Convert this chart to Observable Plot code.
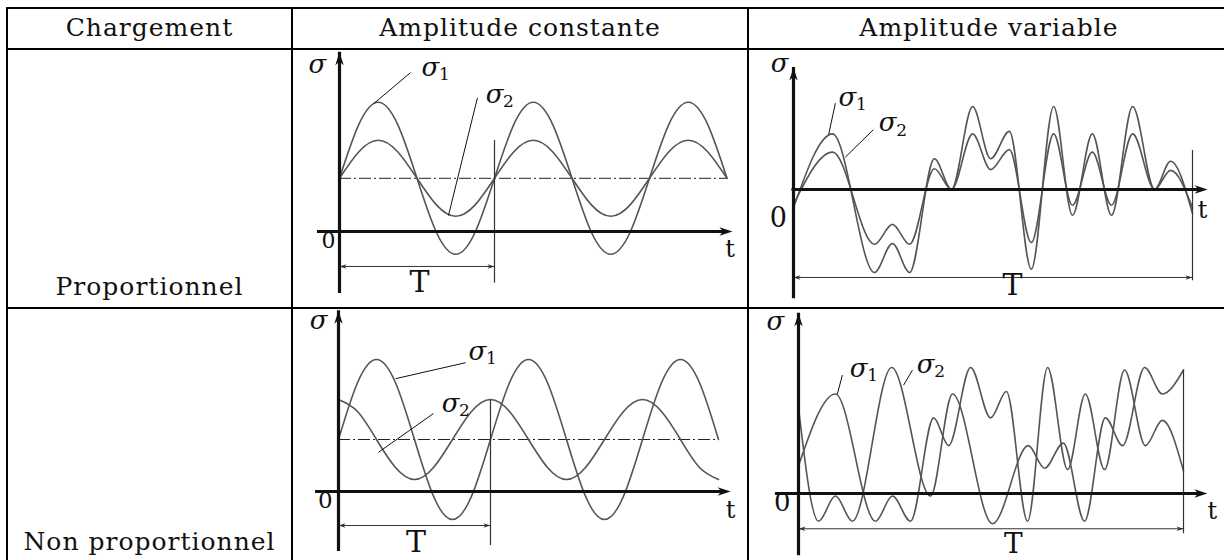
<!DOCTYPE html>
<html>
<head>
<meta charset="utf-8">
<script src="https://cdn.jsdelivr.net/npm/d3@7"></script>
<script src="https://cdn.jsdelivr.net/npm/@observablehq/plot@0.6"></script>
<style>
  body { margin: 0; background: #fff; }
  #page { position: relative; width: 1224px; height: 560px; overflow: hidden; background: #fff;
          font-family: "DejaVu Serif", serif; color: #111; }
  .ln { position: absolute; background: #000; }
  .tx { position: absolute; font-size: 25px; line-height: 25px; letter-spacing: 1px;
        text-align: center; white-space: nowrap; }
  .cell { position: absolute; overflow: visible; }
</style>
</head>
<body>
<div id="page"></div>
<script>
// ---------------- table text ----------------
const headers = ["Chargement", "Amplitude constante", "Amplitude variable"];
const rowLabels = ["Proportionnel", "Non proportionnel"];

// ---------------- panel 1 : proportional, constant amplitude ----------------
const p1T      = [0,0.125,0.25,0.375,0.5,0.625,0.75,0.875,1,1.125,1.25,1.375,1.5,1.625,1.75,1.875,2,2.125,2.25,2.375,2.5];
const p1Sigma1 = [0.70,1.41,1.70,1.41,0.70,-0.01,-0.30,-0.01,0.70,1.41,1.70,1.41,0.70,-0.01,-0.30,-0.01,0.70,1.41,1.70,1.41,0.70];
const p1Sigma2 = [0.70,1.05,1.20,1.05,0.70,0.35,0.20,0.35,0.70,1.05,1.20,1.05,0.70,0.35,0.20,0.35,0.70,1.05,1.20,1.05,0.70];
const p1Mean = 0.70;

// ---------------- panel 2 : proportional, variable amplitude ----------------
const p2T      = [0,0.098,0.203,0.248,0.291,0.353,0.396,0.449,0.494,0.541,0.596,0.652,0.699,0.749,0.797,0.850,0.905,0.945,1.0];
const p2Sigma1 = [-0.22,0.67,-1.00,-0.65,-1.00,0.37,0.00,1.00,0.37,0.70,-0.96,1.00,-0.31,0.67,-0.31,1.00,0.00,0.34,-0.29];
const p2Sigma2 = [-0.18,0.45,-0.66,-0.42,-0.66,0.25,0.00,0.67,0.24,0.48,-0.64,0.67,-0.19,0.45,-0.19,0.67,0.00,0.23,-0.22];

// ---------------- panel 3 : non proportional, constant amplitude ----------------
const p3T      = [0,0.125,0.25,0.375,0.5,0.625,0.75,0.875,1,1.125,1.25,1.375,1.5,1.625,1.75,1.875,2,2.125,2.25,2.375,2.5];
const p3Sigma1 = [0.65,1.36,1.65,1.36,0.65,-0.06,-0.35,-0.06,0.65,1.36,1.65,1.36,0.65,-0.06,-0.35,-0.06,0.65,1.36,1.65,1.36,0.65];
const p3Sigma2 = [1.15,1.00,0.65,0.30,0.15,0.30,0.65,1.00,1.15,1.00,0.65,0.30,0.15,0.30,0.65,1.00,1.15,1.00,0.65,0.30,0.15];
const p3Mean = 0.65;

// ---------------- panel 4 : non proportional, variable amplitude ----------------
const p4T1     = [0,0.096,0.200,0.244,0.291,0.351,0.390,0.447,0.499,0.540,0.595,0.647,0.699,0.745,0.795,0.847,0.901,0.945,1.0];
const p4Sigma1 = [0.22,0.79,-0.22,-0.02,-0.22,0.60,0.38,1.00,0.60,0.81,-0.22,1.00,0.19,0.79,0.19,0.98,0.38,0.58,0.18];
const p4T2     = [0,0.052,0.096,0.140,0.242,0.343,0.400,0.504,0.597,0.639,0.688,0.743,0.797,0.842,0.899,0.945,1.0];
const p4Sigma2 = [0.68,-0.22,-0.02,-0.22,1.00,-0.02,0.79,-0.24,0.38,0.20,0.40,-0.22,0.60,0.38,1.00,0.79,0.98];

// ---------------- layout ----------------
const ink = "#111", curveInk = "#555", thin = "#333";
const page = document.getElementById("page");

function arrowHead(len, half) {
  return { draw(ctx) { ctx.moveTo(0, 0); ctx.lineTo(-len, -half); ctx.lineTo(-len * 0.72, 0); ctx.lineTo(-len, half); ctx.closePath(); } };
}
const bigHead = arrowHead(13, 4.2);
const smallHead = arrowHead(7, 2.2);

const rows = (ts, vs) => ts.map((t, i) => ({ t, v: vs[i] }));

const panels = [
  { cell: { left: 294, top: 50, w: 453, h: 258 }, x0: 339, x1: 494, y0: 231, unit: 76,
    series: [rows(p1T, p1Sigma1), rows(p1T, p1Sigma2)], curve: "natural", mean: p1Mean, tEnd: 2.5,
    yAxis: [-0.71, 2.36], xAxis: [-0.142, 2.535], tLine: [1.2, -0.68], dim: -0.46,
    sig: [-0.142, 2.20], zero: [-0.071, -0.12, 22], tl: [2.52, -0.24], T: [0.516, -0.67, 30],
    labels: [{ t: 0.587, v: 2.16, sub: "1" }, { t: 1.0, v: 1.80, sub: "2" }],
    leaders: [{ t1: 0.458, v1: 2.09, t2: 0.219, v2: 1.68 }, { t1: 0.89, v1: 1.76, t2: 0.703, v2: 0.21 }] },
  { cell: { left: 750, top: 50, w: 474, h: 258 }, x0: 793, x1: 1192, y0: 189, unit: 83,
    series: [rows(p2T, p2Sigma1), rows(p2T, p2Sigma2)], curve: "monotone-x",
    yAxis: [-1.22, 1.47], xAxis: [-0.004, 1.038], tLine: [0.47, -1.10], dim: -1.06,
    sig: [-0.035, 1.52], zero: [-0.038, -0.35, 27], tl: [1.025, -0.25], T: [0.549, -1.15, 30],
    labels: [{ t: 0.135, v: 1.11, sub: "1" }, { t: 0.236, v: 0.80, sub: "2" }],
    leaders: [{ t1: 0.105, v1: 1.04, t2: 0.088, v2: 0.66 }, { t1: 0.2, v1: 0.72, t2: 0.13, v2: 0.39 }] },
  { cell: { left: 294, top: 310, w: 453, h: 250 }, x0: 338, x1: 490, y0: 491, unit: 80,
    series: [rows(p3T, p3Sigma1), rows(p3T, p3Sigma2)], curve: "natural", mean: p3Mean, tEnd: 2.5,
    yAxis: [-0.65, 2.26], xAxis: [-0.151, 2.58], tLine: [1.14, -0.675], dim: -0.425,
    sig: [-0.13, 2.13], zero: [-0.086, -0.11, 23], tl: [2.58, -0.24], T: [0.51, -0.63, 30],
    labels: [{ t: 0.914, v: 1.75, sub: "1" }, { t: 0.737, v: 1.10, sub: "2" }],
    leaders: [{ t1: 0.836, v1: 1.61, t2: 0.375, v2: 1.41 }, { t1: 0.625, v1: 0.975, t2: 0.263, v2: 0.49 }] },
  { cell: { left: 750, top: 310, w: 474, h: 250 }, x0: 798, x1: 1183, y0: 493, unit: 126,
    series: [rows(p4T1, p4Sigma1), rows(p4T2, p4Sigma2)], curve: "monotone-x",
    yAxis: [-0.43, 1.43], xAxis: [-0.06, 1.062], tLine: [0.98, -0.32], dim: -0.28,
    sig: [-0.06, 1.36], zero: [-0.042, -0.07, 26], tl: [1.075, -0.14], T: [0.558, -0.40, 28],
    labels: [{ t: 0.156, v: 0.99, sub: "1" }, { t: 0.33, v: 1.02, sub: "2" }],
    leaders: [{ t1: 0.114, v1: 0.94, t2: 0.101, v2: 0.79 }, { t1: 0.296, v1: 0.98, t2: 0.273, v2: 0.86 }] }
];

const serif = "DejaVu Serif";

function buildPanel(p) {
  const c = p.cell;
  const marks = [];
  if (p.mean != null) {
    marks.push(Plot.ruleY([p.mean], { x1: 0, x2: p.tEnd, stroke: "#222", strokeWidth: 1, strokeDasharray: "12,3,2,3" }));
  }
  for (const s of p.series) {
    marks.push(Plot.line(s, { x: "t", y: "v", curve: p.curve, stroke: curveInk, strokeWidth: 1.6 }));
  }
  // period marker and dimension line
  marks.push(Plot.ruleX([1], { y1: p.tLine[0], y2: p.tLine[1], stroke: thin, strokeWidth: 1.2 }));
  marks.push(Plot.ruleY([p.dim], { x1: 0, x2: 1, stroke: thin, strokeWidth: 1 }));
  marks.push(Plot.dot([{ t: 0, r: 180 }, { t: 1, r: 0 }], { x: "t", y: () => p.dim, rotate: "r", symbol: smallHead, fill: thin, stroke: "none" }));
  // axes
  marks.push(Plot.ruleX([0], { y1: p.yAxis[0], y2: p.yAxis[1], stroke: ink, strokeWidth: 3.2, insetTop: 8 }));
  marks.push(Plot.ruleY([0], { x1: p.xAxis[0], x2: p.xAxis[1], stroke: ink, strokeWidth: 3.2, insetRight: 8 }));
  marks.push(Plot.dot([p.yAxis[1]], { x: () => 0, y: d => d, rotate: -90, symbol: bigHead, fill: ink, stroke: "none" }));
  marks.push(Plot.dot([p.xAxis[1]], { x: d => d, y: () => 0, rotate: 0, symbol: bigHead, fill: ink, stroke: "none" }));
  // leaders
  marks.push(Plot.link(p.leaders, { x1: "t1", y1: "v1", x2: "t2", y2: "v2", stroke: ink, strokeWidth: 1 }));
  // texts
  marks.push(Plot.text([p.sig], { x: d => d[0], y: d => d[1], text: () => "σ", fontFamily: serif, fontStyle: "italic", fontSize: 26, fill: ink }));
  marks.push(Plot.text([p.zero], { x: d => d[0], y: d => d[1], text: () => "0", fontFamily: serif, fontSize: p.zero[2], fill: ink }));
  marks.push(Plot.text([p.tl], { x: d => d[0], y: d => d[1], text: () => "t", fontFamily: serif, fontSize: 24, fill: ink }));
  marks.push(Plot.text([p.T], { x: d => d[0], y: d => d[1], text: () => "T", fontFamily: serif, fontSize: p.T[2], fill: ink }));
  marks.push(Plot.text(p.labels, { x: "t", y: "v", text: () => "σ", fontFamily: serif, fontStyle: "italic", fontSize: 26, fill: ink }));
  marks.push(Plot.text(p.labels, { x: "t", y: "v", text: "sub", dx: 14, dy: 7, fontFamily: serif, fontSize: 17, fill: ink }));

  const svg = Plot.plot({
    width: c.w, height: c.h, margin: 0,
    style: { background: "transparent", overflow: "visible" },
    x: { domain: [0, 1], range: [p.x0 - c.left, p.x1 - c.left], axis: null },
    y: { domain: [0, 1], range: [p.y0 - c.top, p.y0 - p.unit - c.top], axis: null },
    marks
  });
  const div = document.createElement("div");
  div.className = "cell";
  Object.assign(div.style, { left: c.left + "px", top: c.top + "px", width: c.w + "px", height: c.h + "px" });
  div.appendChild(svg);
  page.appendChild(div);
}
panels.forEach(buildPanel);

// ---------------- table frame ----------------
const colX = [7, 292, 748];
const rowY = [8, 49, 308];
for (const y of rowY) {
  const d = document.createElement("div");
  d.className = "ln";
  Object.assign(d.style, { left: "6px", top: (y - 1) + "px", width: "1230px", height: "2px" });
  page.appendChild(d);
}
for (const x of colX) {
  const d = document.createElement("div");
  d.className = "ln";
  Object.assign(d.style, { left: (x - 1) + "px", top: "7px", width: "2px", height: "560px" });
  page.appendChild(d);
}
const colSpans = [[7, 292], [292, 748], [748, 1230]];
headers.forEach((h, i) => {
  const d = document.createElement("div");
  d.className = "tx";
  d.textContent = h;
  Object.assign(d.style, { left: colSpans[i][0] + "px", width: (colSpans[i][1] - colSpans[i][0]) + "px", top: "15px" });
  page.appendChild(d);
});
const rowBaselines = [295, 550];
rowLabels.forEach((r, i) => {
  const d = document.createElement("div");
  d.className = "tx";
  d.textContent = r;
  Object.assign(d.style, { left: colSpans[0][0] + "px", width: (colSpans[0][1] - colSpans[0][0]) + "px", top: (rowBaselines[i] - 21) + "px" });
  page.appendChild(d);
});
</script>
</body>
</html>
